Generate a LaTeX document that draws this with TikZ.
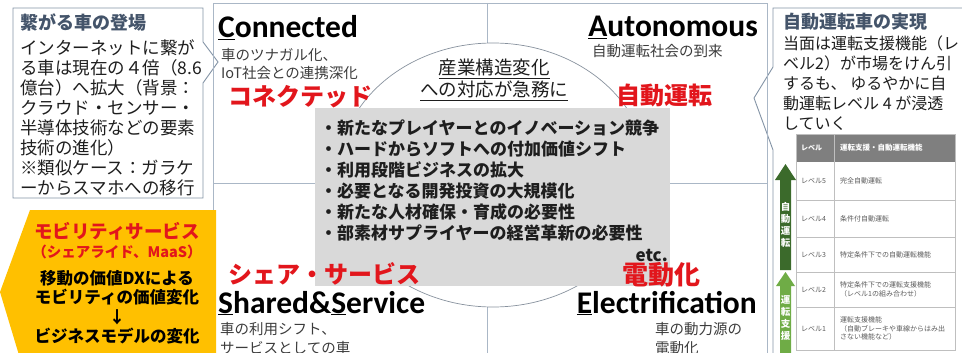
\documentclass[tikz,border=0pt]{standalone}
\usepackage{fontspec}
\newfontfamily\jpfont{Noto Sans CJK JP}
\newfontfamily\capfont{Carlito}
\usetikzlibrary{positioning}
\definecolor{framegray}{HTML}{AAB7C6}
\definecolor{boxgray}{HTML}{8494A6}
\definecolor{titleblue}{HTML}{44546A}
\definecolor{inkblack}{HTML}{1E1E1E}
\definecolor{notegray}{HTML}{3C3C3C}
\definecolor{accred}{HTML}{E2161C}
\definecolor{mobgold}{HTML}{FFC000}
\definecolor{panelgray}{HTML}{D9D9D9}
\definecolor{hdrgray}{HTML}{7F7F7F}
\definecolor{cellgray}{HTML}{5A5A5A}
\definecolor{autogreen}{HTML}{3B6A2B}
\definecolor{assistgreen}{HTML}{6FAC46}
\begin{document}
\begin{tikzpicture}[x=1pt,y=-1pt,
  frameline/.style={draw=framegray,line width=0.9pt},
  arcline/.style={draw=framegray!80!black,line width=0.7pt,fill=white},
  callout/.style={draw=boxgray,fill=white,line width=0.9pt},
  boxtitle/.style={anchor=base west,inner sep=0pt,text=titleblue,font=\jpfont\bfseries\fontsize{18}{21}\selectfont},
  boxbody/.style={anchor=base west,inner sep=0pt,align=left,text=inkblack,font=\jpfont\fontsize{17.5}{20}\selectfont},
  pillar/.style={inner sep=0pt,text=black,font=\capfont\bfseries\fontsize{31.5}{32}\selectfont},
  pillarnote/.style={anchor=base west,inner sep=0pt,align=left,text=notegray,font=\jpfont\fontsize{14.5}{18.5}\selectfont},
  redlabel/.style={anchor=west,inner sep=0pt,text=accred,font=\jpfont\bfseries\fontsize{24}{24}\selectfont},
  vlabel/.style={inner sep=0pt,align=center,text=white,font=\jpfont\bfseries\fontsize{9.5}{12}\selectfont},
  cell/.style={anchor=west,inner sep=0pt,align=left,text=cellgray,font=\jpfont\fontsize{7}{8.6}\selectfont},
  tableline/.style={draw=black!25,line width=0.5pt}]
\useasboundingbox (0,0) rectangle (962,353);

% callouts
\draw[callout] (13,8) -- (203,8) -- (203,42) -- (218,62) -- (203,83) -- (203,198) -- (13,198) -- cycle;
\draw[callout] (975,8) -- (773,8) -- (773,67) -- (754,98) -- (773,150) -- (773,365);

% frame and centre
\draw[frameline] (213,3) rectangle (767,365);
\draw[frameline] (487,3) -- (487,365);
\draw[frameline] (213,183) -- (767,183);
\draw[arcline] (493,175) ellipse [x radius=155,y radius=132];
\fill[panelgray] (315,108) rectangle (670,286);

% mobility service
\fill[mobgold] (30,210) -- (216,210) -- (216,365) -- (22,365) -- (0,292) -- cycle;

\node (conntitle) at (20,29.8) [boxtitle] {繋がる車の登場};
\node (connbody) at (20,194.6) [boxbody] {インターネットに繋が\\る車は現在の４倍（8.6\\億台）へ拡大（背景：\\クラウド・センサー・\\半導体技術などの要素\\技術の進化）\\※類似ケース：ガラケ\\ーからスマホへの移行};

\node (connected) at (218,38) [pillar,anchor=base west] {\underline{C}onnected};
\node (connectednote) at (221,79) [pillarnote] {車のツナガル化、\\IoT社会との連携深化};
\node (connectedjp) at (228,97) [redlabel] {コネクテッド};

\node (autonomous) at (758,37) [pillar,anchor=base east] {\underline{A}utonomous};
\node (autonomousnote) at (592,57) [pillarnote] {自動運転社会の到来};
\node (autonomousjp) at (616,95) [redlabel] {自動運転};

\node (shift) at (494,97) [anchor=base,inner sep=0pt,align=center,text=inkblack,font=\jpfont\fontsize{18.5}{22}\selectfont] {\underline{産業構造変化}\\\underline{への対応が急務に}};

\node (issues) at (320,239.5) [anchor=base west,inner sep=0pt,align=left,text=inkblack,font=\jpfont\bfseries\fontsize{17}{21}\selectfont] {・新たなプレイヤーとのイノベーション競争\\・ハードからソフトへの付加価値シフト\\・利用段階ビジネスの拡大\\・必要となる開発投資の大規模化\\・新たな人材確保・育成の必要性\\・部素材サプライヤーの経営革新の必要性};
\node (etc) at (668,261) [anchor=base east,inner sep=0pt,text=inkblack,font=\jpfont\bfseries\fontsize{17}{21}\selectfont] {etc.};

\node (sharedjp) at (228,274) [redlabel] {シェア・サービス};
\node (shared) at (218,313) [pillar,anchor=base west] {\underline{S}hared\&\underline{S}ervice};
\node (sharednote) at (220,353) [pillarnote] {車の利用シフト、\\サービスとしての車};

\node (electrificationjp) at (622,275) [redlabel,font=\jpfont\bfseries\fontsize{26}{26}\selectfont] {電動化};
\node (electrification) at (757,313) [pillar,anchor=base east] {\underline{E}lectrification};
\node (electrificationnote) at (655,353) [pillarnote] {車の動力源の\\電動化};

\node (mobility) at (117,238.5) [anchor=base,inner sep=0pt,text=accred,font=\jpfont\bfseries\fontsize{18.5}{20}\selectfont] {モビリティサービス};
\node (mobilitysub) at (117,257.5) [anchor=base,inner sep=0pt,text=accred,font=\jpfont\bfseries\fontsize{14.5}{18}\selectfont] {（シェアライド、MaaS）};
\node (valueshift) at (117,342.3) [anchor=base,inner sep=0pt,align=center,text=black,font=\jpfont\bfseries\fontsize{16.5}{19.3}\selectfont] {移動の価値DXによる\\モビリティの価値変化\\↓\\ビジネスモデルの変化};

% autonomous driving levels
\node (autotitle) at (783,28.8) [boxtitle] {自動運転車の実現};
\node (autobody) at (783,129.3) [boxbody,font=\jpfont\fontsize{16}{20}\selectfont] {当面は運転支援機能（レ\\ベル2）が市場をけん引\\するも、 ゆるやかに自\\動運転レベル 4 が浸透\\していく};

\fill[hdrgray] (796,134) rectangle (955,162);
\draw[tableline] (796,134) rectangle (955,350);
\draw[tableline] (834,134) -- (834,350);
\draw[tableline] (796,200) -- (955,200);
\draw[tableline] (796,237) -- (955,237);
\draw[tableline] (796,272) -- (955,272);
\draw[tableline] (796,307) -- (955,307);
\node (hdrlevel) at (801,148) [cell,text=white,font=\jpfont\bfseries\fontsize{7}{8}\selectfont] {レベル};
\node (hdrfunc) at (840,148) [cell,text=white,font=\jpfont\bfseries\fontsize{7.5}{8}\selectfont] {運転支援・自動運転機能};
\node (lv5) at (801,181) [cell] {レベル5};
\node (lv4) at (801,218.5) [cell] {レベル4};
\node (lv3) at (801,254.5) [cell] {レベル3};
\node (lv2) at (801,289.5) [cell] {レベル2};
\node (lv1) at (801,328.5) [cell] {レベル1};
\node (fn5) at (840,181) [cell] {完全自動運転};
\node (fn4) at (840,218.5) [cell] {条件付自動運転};
\node (fn3) at (840,254.5) [cell] {特定条件下での自動運転機能};
\node (fn2) at (840,289.5) [cell] {特定条件下での運転支援機能\\（レベル1の組み合わせ）};
\node (fn1) at (840,328.5) [cell] {運転支援機能\\（自動ブレーキや車線からはみ出\\さない機能など）};

\fill[autogreen] (780,270) -- (780,180) -- (775,180) -- (785.5,164) -- (796,180) -- (791,180) -- (791,270) -- cycle;
\fill[assistgreen] (780,365) -- (780,286) -- (776,286) -- (785.5,272) -- (795,286) -- (791,286) -- (791,365) -- cycle;
\node (autolabel) at (785.5,225) [vlabel] {自\\動\\運\\転};
\node (assistlabel) at (785.5,318) [vlabel] {運\\転\\支\\援};
\end{tikzpicture}
\end{document}
